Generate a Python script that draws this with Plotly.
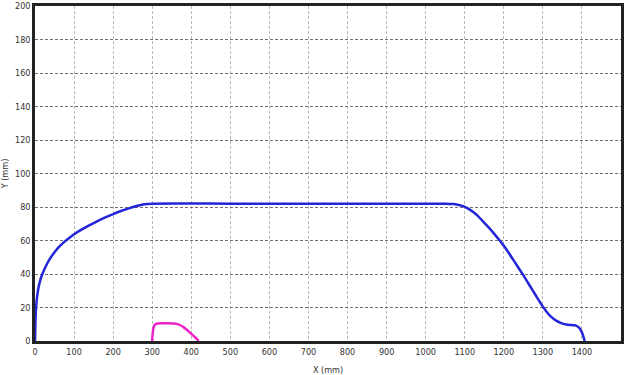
import plotly.graph_objects as go

# Blue profile (X mm, Y mm)
blue_x = [0, 1, 2, 4, 6, 9, 12, 16, 21, 28, 38, 50, 62, 75, 90, 100, 120, 140, 160, 180, 200, 220,
          240, 260, 280, 300, 500, 800, 1000, 1050, 1070, 1082, 1092, 1100, 1110, 1120, 1132, 1146,
          1160, 1175, 1190, 1200, 1215, 1230, 1249, 1265, 1280, 1290, 1300, 1310, 1320, 1334, 1347,
          1360, 1370, 1381, 1388, 1394, 1399, 1403, 1407]
blue_y = [0, 11, 17, 23.5, 27.5, 32, 35, 38.2, 41.2, 44.8, 49, 53, 56.3, 59.2, 62, 63.7, 66.6, 69.2,
          71.6, 73.8, 75.8, 77.6, 79.2, 80.6, 81.6, 82, 82, 82, 82, 82, 81.8, 81.4, 80.8, 80.1, 78.9,
          77.3, 75.0, 71.6, 68.1, 64.1, 59.8, 56.8, 51.8, 46.4, 39.6, 33.6, 27.9, 24.1, 20.5, 17.3,
          14.7, 12.2, 10.7, 9.9, 9.6, 9.4, 8.8, 7.6, 5.6, 3.2, 0]

# Magenta profile
mag_x = [300, 301, 303, 306, 310, 315, 320, 340, 355, 365, 372, 380, 387, 394, 401, 408, 414, 419]
mag_y = [0, 4, 7.5, 9.4, 10.2, 10.5, 10.6, 10.6, 10.5, 10.1, 9.4, 8.3, 7, 5.6, 4.1, 2.6, 1.3, 0]

x_ticks = list(range(0, 1501, 100))
y_ticks = list(range(0, 201, 20))

fig = go.Figure()
fig.add_trace(go.Scatter(x=blue_x, y=blue_y, mode="lines",
                         line=dict(color="#2424d8", width=2.5, shape="spline", smoothing=0.5)))
fig.add_trace(go.Scatter(x=mag_x, y=mag_y, mode="lines",
                         line=dict(color="#ee22cc", width=2.5, shape="spline", smoothing=0.5)))

fnt = "Liberation Sans Narrow, DejaVu Sans Condensed, sans-serif"
tickfont = dict(family=fnt, size=9, color="#333333")

fig.update_layout(
    width=629, height=375,
    margin=dict(l=35, r=8, t=6, b=34),
    paper_bgcolor="white", plot_bgcolor="white",
    showlegend=False,
    xaxis=dict(range=[0, 1500], tickvals=x_ticks, ticktext=[str(v) for v in x_ticks],
               showgrid=True, gridcolor="#b8b8b8", griddash="3px,2px", gridwidth=1,
               showline=True, linecolor="#222222", linewidth=2.5, mirror=True,
               zeroline=False, ticks="", tickfont=tickfont, automargin=False,
               title=dict(text="X (mm)", font=dict(family=fnt, size=9, color="#333333"), standoff=12)),
    yaxis=dict(range=[0, 200], tickvals=y_ticks, ticktext=[str(v) for v in y_ticks],
               showgrid=True, gridcolor="#707070", griddash="3px,2px", gridwidth=1,
               showline=True, linecolor="#222222", linewidth=2.5, mirror=True,
               zeroline=False, ticks="", tickfont=tickfont, automargin=False,
               title=dict(text="Y (mm)", font=dict(family=fnt, size=9, color="#333333"), standoff=5)),
)

fig.write_html("out.html")
